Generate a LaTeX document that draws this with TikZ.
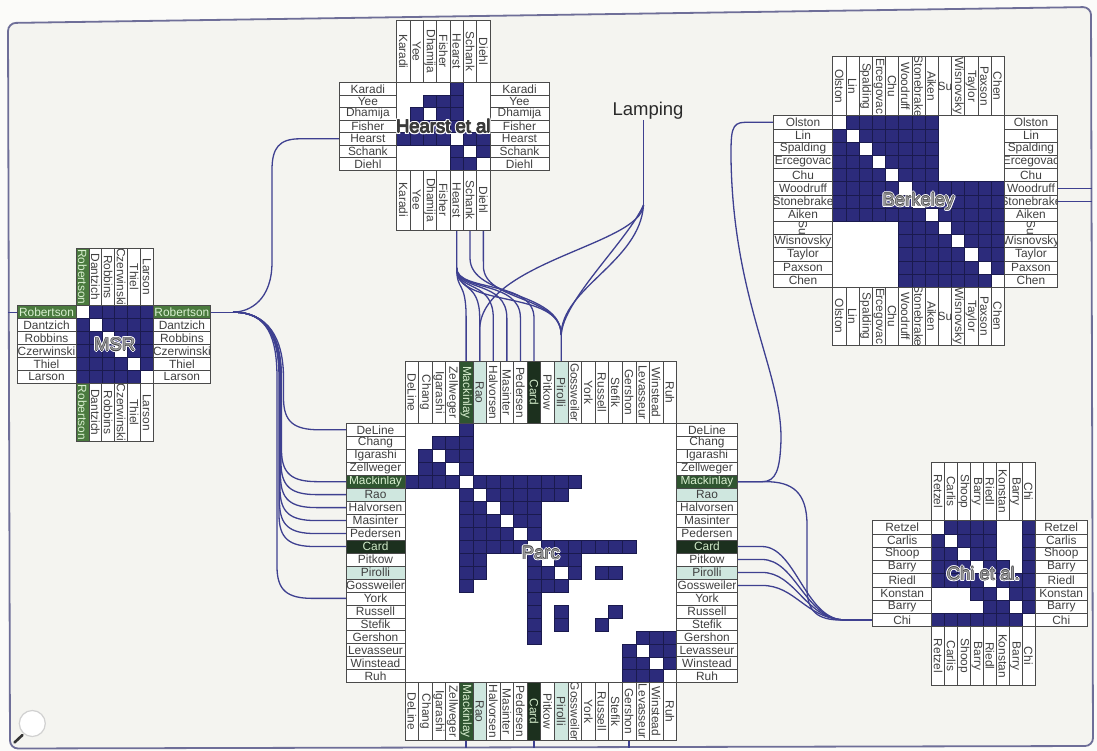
\documentclass[tikz,border=0pt]{standalone}
\usepackage{fontspec}
\setmainfont{Liberation Sans}
\usetikzlibrary{calc}
\pgfdeclarelayer{back}
\pgfdeclarelayer{links}
\pgfsetlayers{back,links,main}
\definecolor{bgout}{HTML}{FBFBF9}
\definecolor{bgin}{HTML}{F4F4F0}
\definecolor{framec}{HTML}{6E6E98}
\definecolor{linkc}{HTML}{3E4090}
\definecolor{cellblue}{HTML}{2C2B7B}
\definecolor{cellline}{HTML}{1A1A4E}
\definecolor{lblline}{HTML}{4A4A4A}
\definecolor{lbltext}{HTML}{404040}
\definecolor{hlg}{HTML}{4A7A3E}
\definecolor{hlh}{HTML}{2F5530}
\definecolor{hlgt}{HTML}{D8EFCF}
\definecolor{hld}{HTML}{1C301E}
\definecolor{hldt}{HTML}{CFE8C7}
\definecolor{hlm}{HTML}{CFE7DF}
\definecolor{titlefill}{HTML}{9A9A9E}
\definecolor{titledark}{HTML}{3A3A3A}
\definecolor{titleedge}{HTML}{3C3C3C}
\definecolor{lampc}{HTML}{2A2A2A}
\def\NTfn{white}\def\NTtn{lbltext}
\def\NTfs{white}\def\NTts{lbltext}
\def\NTfg{hlg}\def\NTtg{hlgt}
\def\NTfh{hlh}\def\NTth{hlgt}
\def\NTfd{hld}\def\NTtd{hldt}
\def\NTfm{hlm}\def\NTtm{lbltext}
\def\NTrrn{0}\def\NTrrs{-90}\def\NTrrg{0}\def\NTrrh{0}\def\NTrrd{0}\def\NTrrm{0}
\def\NTcrn{-90}\def\NTcrs{0}\def\NTcrg{-90}\def\NTcrh{-90}\def\NTcrd{-90}\def\NTcrm{-90}
\newcommand\NTlblfont{\fontsize{11.9}{12}\selectfont}
\newcommand\NTtitlefont{\fontsize{18.5}{20}\selectfont}
\newcommand\NTsh[3]{\rlap{\hspace*{#1}\raisebox{#2}{#3}}}
\newcommand\NThalo[2]{%
\NTsh{1.5pt}{0pt}{\color{white}#2}\NTsh{-1.5pt}{0pt}{\color{white}#2}%
\NTsh{0pt}{1.5pt}{\color{white}#2}\NTsh{0pt}{-1.5pt}{\color{white}#2}%
\NTsh{1.1pt}{1.1pt}{\color{white}#2}\NTsh{-1.1pt}{1.1pt}{\color{white}#2}%
\NTsh{1.1pt}{-1.1pt}{\color{white}#2}\NTsh{-1.1pt}{-1.1pt}{\color{white}#2}%
\NTsh{0.5pt}{0pt}{\color{titleedge}#2}\NTsh{-0.5pt}{0pt}{\color{titleedge}#2}%
\NTsh{0pt}{0.5pt}{\color{titleedge}#2}\NTsh{0pt}{-0.5pt}{\color{titleedge}#2}%
{\color{#1}#2}}
\tikzset{
  lblbox/.style={draw=lblline, line width=0.7pt, inner sep=0pt, outer sep=0pt, rectangle, anchor=center,
    path picture={\node[rotate=\NTrot, text=\NTtc, font=\NTlblfont, inner sep=0pt] at (path picture bounding box.center) {\nm};}},
  link/.style={draw=linkc, line width=1.3pt},
  cellst/.style={fill=cellblue, draw=cellline, line width=0.5pt},
  titlest/.style={font=\NTtitlefont, inner sep=0pt},
}
\newcommand\NTmatrix[1]{%
  \draw[lblline, line width=0.7pt, fill=white] (\NTx,\NTy) rectangle ({\NTx+\NTn*\NTcw},{\NTy+\NTn*\NTch});
  \foreach \i/\j in \NTedges {%
    \path[cellst] ({\NTx+(\j-1)*\NTcw},{\NTy+(\i-1)*\NTch}) rectangle ++(\NTcw,\NTch);
    \path[cellst] ({\NTx+(\i-1)*\NTcw},{\NTy+(\j-1)*\NTch}) rectangle ++(\NTcw,\NTch);
  }
  \foreach \nm/\st [count=\k] in \NTnames {%
    \edef\NTfc{\csname NTf\st\endcsname}%
    \edef\NTtc{\csname NTt\st\endcsname}%
    \edef\NTrot{\csname NTrr\st\endcsname}%
    \node[lblbox, fill=\NTfc, minimum width=\NTlL, minimum height=\NTch] (#1L\k) at ({\NTx-0.5*\NTlL},{\NTy+(\k-0.5)*\NTch}) {};
    \node[lblbox, fill=\NTfc, minimum width=\NTlR, minimum height=\NTch] (#1R\k) at ({\NTx+\NTn*\NTcw+0.5*\NTlR},{\NTy+(\k-0.5)*\NTch}) {};
    \edef\NTrot{\csname NTcr\st\endcsname}%
    \node[lblbox, fill=\NTfc, minimum width=\NTcw, minimum height=\NTlT] (#1T\k) at ({\NTx+(\k-0.5)*\NTcw},{\NTy-0.5*\NTlT}) {};
    \node[lblbox, fill=\NTfc, minimum width=\NTcw, minimum height=\NTlB] (#1B\k) at ({\NTx+(\k-0.5)*\NTcw},{\NTy+\NTn*\NTch+0.5*\NTlB}) {};
  }%
}
\begin{document}
\begin{tikzpicture}[x=1pt,y=-1pt]
\useasboundingbox (0,0) rectangle (1097,751);
\begin{pgfonlayer}{back}
  \fill[bgout] (0,0) rectangle (1097,751);
  \draw[framec, line width=1.8pt, rounded corners=8pt, fill=bgin] (500,15.7) -- (1091,7) -- (1093,746) -- (10,748.5) -- (8,23) -- cycle;
  \draw[black!18, line width=1.2pt, fill=white] (32.3,723.5) circle (13);
  \draw[black!80, line width=2.6pt, line cap=round] (14.5,742.5) -- (22.5,735);
\end{pgfonlayer}

% ---------------- MSR
\def\NTx{76}\def\NTy{305.7}\def\NTn{6}\def\NTcw{12.9}\def\NTch{12.9}
\def\NTlL{59}\def\NTlR{57}\def\NTlT{57.7}\def\NTlB{58.7}
\def\NTnames{Robertson/g,Dantzich/n,Robbins/n,Czerwinski/n,Thiel/n,Larson/n}
\def\NTedges{1/2,1/3,1/4,1/5,1/6,2/3,2/4,2/5,2/6,3/4,3/5,3/6,4/5,4/6,5/6}
\NTmatrix{msr}
\node[titlest] (msrN) at (114.7,344.4) {\NThalo{titlefill}{MSR}};

% ---------------- Hearst et al
\def\NTx{396.7}\def\NTy{82.7}\def\NTn{7}\def\NTcw{13.33}\def\NTch{12.47}
\def\NTlL{57.7}\def\NTlR{59}\def\NTlT{62.7}\def\NTlB{60}
\def\NTnames{Karadi/n,Yee/n,Dhamija/n,Fisher/n,Hearst/n,Schank/n,Diehl/n}
\def\NTedges{1/5,2/3,2/4,2/5,3/4,3/5,4/5,5/6,5/7,6/7}
\NTmatrix{hea}
\node[titlest] (heaN) at (443.3,126.3) {\NThalo{titledark}{Hearst et al}};

% ---------------- Berkeley
\def\NTx{832.7}\def\NTy{115.7}\def\NTn{13}\def\NTcw{13.2}\def\NTch{13.2}
\def\NTlL{59.4}\def\NTlR{53.3}\def\NTlT{59}\def\NTlB{57.7}
\def\NTnames{Olston/n,Lin/n,Spalding/n,Ercegovac/n,Chu/n,Woodruff/n,Stonebrake/n,Aiken/n,Su/s,Wisnovsky/n,Taylor/n,Paxson/n,Chen/n}
\def\NTedges{1/2,1/3,1/4,1/5,1/6,1/7,1/8,2/3,2/4,2/5,2/6,2/7,2/8,3/4,3/5,3/6,3/7,3/8,4/5,4/6,4/7,4/8,5/6,5/7,5/8,6/7,6/8,7/8,6/9,6/10,6/11,6/12,6/13,7/9,7/10,7/11,7/12,7/13,8/9,8/10,8/11,8/12,8/13,9/10,9/11,9/12,9/13,10/11,10/12,10/13,11/12,11/13,12/13}
\NTmatrix{ber}
\node[titlest] (berN) at (918.5,201.5) {\NThalo{titlefill}{Berkeley}};

% ---------------- Parc
\def\NTx{405}\def\NTy{423.3}\def\NTn{20}\def\NTcw{13.58}\def\NTch{12.97}
\def\NTlL{59}\def\NTlR{60.7}\def\NTlT{61.6}\def\NTlB{57.3}
\def\NTnames{DeLine/n,Chang/n,Igarashi/n,Zellweger/n,Mackinlay/h,Rao/m,Halvorsen/n,Masinter/n,Pedersen/n,Card/d,Pitkow/n,Pirolli/m,Gossweiler/n,York/n,Russell/n,Stefik/n,Gershon/n,Levasseur/n,Winstead/n,Ruh/n}
\def\NTedges{1/5,2/3,2/4,2/5,3/4,3/5,4/5,5/6,5/7,5/8,5/9,5/10,5/11,5/12,5/13,6/7,6/8,6/9,6/10,6/11,6/12,7/8,7/9,7/10,8/9,8/10,9/10,10/11,10/12,10/13,10/14,10/15,10/16,10/17,11/12,11/13,12/13,12/15,12/16,15/16,17/18,17/19,17/20,18/19,18/20,19/20}
\NTmatrix{par}
\node[titlest] (parN) at (540.8,553) {\NThalo{titlefill}{Parc}};

% ---------------- Chi et al.
\def\NTx{931.7}\def\NTy{520.7}\def\NTn{8}\def\NTcw{12.9}\def\NTch{13.25}
\def\NTlL{59}\def\NTlR{52.7}\def\NTlT{58.7}\def\NTlB{58.3}
\def\NTnames{Retzel/n,Carlis/n,Shoop/n,Barry/n,Riedl/n,Konstan/n,Barry/n,Chi/n}
\def\NTedges{1/2,1/3,1/4,1/5,1/8,2/3,2/4,2/5,2/8,3/4,3/5,3/8,4/5,4/6,4/8,5/6,5/7,5/8,6/7,6/8,7/8}
\NTmatrix{chi}
\node[titlest] (chiN) at (983.3,573.7) {\NThalo{titlefill}{Chi et al.}};

% ---------------- Lamping
\node[font=\NTtitlefont, text=lampc, inner sep=0pt] (lamp) at (648,111) {Lamping};

% ---------------- links
\begin{pgfonlayer}{links}
  \coordinate (frameL) at (8,0);
  \coordinate (frameR) at (1092,0);
  \coordinate (frameB) at (0,747.5);
  \coordinate (msrJ) at (233,312.15);
  \coordinate (heaJ) at (456.7,268);
  \coordinate (lampJ) at (643.5,205);
  % MSR
  \draw[link] (msrL1.west) -- (msrL1.west -| frameL);
  \draw[link] (msrR1.east) -- (msrJ);
  \draw[link] (msrJ) .. controls (250,312) and (272,300) .. (272,262) -- (272,170) .. controls (272,148) and (279,138.8) .. (300,138.8) -- (heaL5.west);
  \foreach \k in {1,5,6,7,8,9,10,14} {
    \pgfmathsetmacro\yy{423.3+(\k-0.5)*12.97}
    \pgfmathsetmacro\xx{284-0.5*\k}
    \draw[link] (msrJ) .. controls (268,312) and (\xx,338) .. (\xx,378) -- (\xx,{\yy-32}) .. controls (\xx,{\yy-8}) and ({\xx+10},\yy) .. ({\xx+36},\yy) -- (parL\k.west);
  }
  % Hearst -> Parc
  \draw[link] (heaB5.south) -- (heaJ);
  \foreach \t in {5,6,7,8,9,10} {
    \pgfmathsetmacro\xt{405+(\t-0.5)*13.58}
    \draw[link] (heaJ) .. controls (456.7,292) and (\xt,280) .. (\xt,318) -- (parT\t.north);
  }
  \draw[link] (heaJ) .. controls (456.7,310) and (561.2,288) .. (561.2,335) -- (parT12.north);
  \draw[link] (heaB6.south) -- (470,258) .. controls (470,298) and (561.2,290) .. (561.2,335);
  \draw[link] (heaB7.south) -- (483.4,266) .. controls (483.4,302) and (561.2,295) .. (561.2,335);
  % Lamping
  \draw[link] (lamp.south -| lampJ) -- (lampJ);
  \draw[link] (lampJ) .. controls (641,245) and (479.7,262) .. (479.7,330) -- (parT6.north);
  \draw[link] (lampJ) .. controls (640,262) and (561.2,288) .. (561.2,335);
  \draw[link] (lampJ) .. controls (628,240) and (563,300) .. (561.2,335);
  % Berkeley
  \draw[link] (berL1.west) -- (745,122.3) .. controls (731,122.3) and (731,132) .. (731,158) .. controls (733,300) and (782,372) .. (781,440) .. controls (780,470) and (776,481.7) .. (762,481.7) -- (parR5.east);
  \draw[link] (berR6.east) -- (berR6.east -| frameR);
  \draw[link] (berR7.east) -- (berR7.east -| frameR);
  % Parc -> Chi
  \draw[link] (parR5.east) -- (766,481.7) .. controls (792,481.7) and (807,492) .. (807,525) -- (807,588) .. controls (807,612) and (818,620.1) .. (842,620.1) -- (chiL8.west);
  \foreach \k in {10,11,12,13} {
    \pgfmathsetmacro\yy{423.3+(\k-0.5)*12.97}
    \draw[link] (parR\k.east) -- (762,\yy) .. controls (795,\yy) and (805,617) .. (842,619.8) -- (chiL8.west);
  }
  % Parc bottom
  \foreach \k in {5,10,17} {
    \draw[link] (parB\k.south) -- (parB\k.south |- frameB);
  }
\end{pgfonlayer}
\end{tikzpicture}
\end{document}
